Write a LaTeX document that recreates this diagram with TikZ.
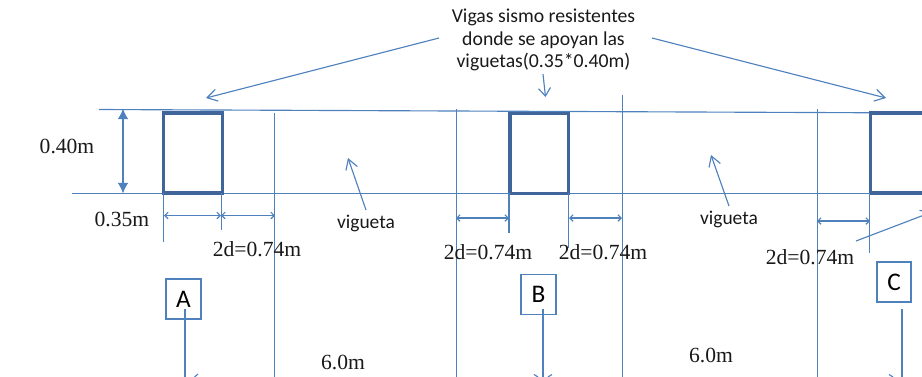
\documentclass[tikz,border=0pt]{standalone}
\usepackage{fontspec}
\setmainfont{Liberation Serif}
\newfontfamily\labelsans{Carlito}
\usetikzlibrary{arrows.meta}
\definecolor{linecol}{HTML}{4F81BD}
\definecolor{beamcol}{HTML}{3F659A}
\definecolor{boxcol}{HTML}{4F81BD}
\tikzset{
  ln/.style={draw=linecol,line width=0.85pt},
  beam/.style={draw=beamcol,line width=2.3pt,fill=none,minimum width=44pt,minimum height=60pt,inner sep=0pt,outer sep=0pt,anchor=north west},
  letterbox/.style={draw=boxcol,line width=1.4pt,fill=white,minimum width=26pt,minimum height=30pt,inner sep=0pt,font=\labelsans\fontsize{19}{20}\selectfont,text=black},
  dim/.style={font=\fontsize{16.2}{18}\selectfont,text=black!90,inner sep=0pt},
  sans/.style={font=\labelsans\fontsize{14.8}{16.9}\selectfont,text=black!90,inner sep=0pt,align=center},
  vigsans/.style={font=\labelsans\fontsize{14.6}{17}\selectfont,text=black!90,inner sep=0pt},
  openarrow/.style={ln,-{Straight Barb[length=7.5pt,width=9pt,line width=0.85pt]}},
  dimarrow/.style={ln,{Straight Barb[length=2.5pt,width=5pt]}-{Straight Barb[length=2.5pt,width=5pt]}},
  solidarrow/.style={draw=linecol,line width=1pt,{Latex[length=8pt,width=8pt]}-{Latex[length=8pt,width=8pt]}}
}
\begin{document}
\begin{tikzpicture}[x=0.75pt,y=-0.75pt]
\useasboundingbox (0,0) rectangle (922,376);
\clip (0,0) rectangle (922,376);
% main horizontal lines
\coordinate (t1) at (99,109.5); \coordinate (t2) at (930,113);
\coordinate (b1) at (72,193.5); \coordinate (b2) at (930,193.5);
\draw[ln] (t1) -- (t2);
\draw[ln] (b1) -- (b2);
% beams
\node[beam] (beamA) at (163.5,113) {};
\node[beam] (beamB) at (510,113.5) {};
\node[beam] (beamC) at (870.5,113) {};
% vertical lines
\foreach \n/\x/\ya/\yb in {a/163.7/193/242, b/221.5/193/230, c/274.5/113/380, d/456.5/109/380, e/509/193/233, f/568.5/193/248, g/622.5/95/380, h/817.5/109/380, i/869.5/193/253}{
  \coordinate (v\n1) at (\x,\ya); \coordinate (v\n2) at (\x,\yb);
  \draw[ln] (v\n1) -- (v\n2);
}
% dimension arrows
\coordinate (da) at (164,215.5); \coordinate (db) at (221,215.5); \coordinate (dc) at (275,215.5);
\draw[dimarrow] (da) -- (db);
\draw[dimarrow] (db) -- (dc);
\coordinate (dd) at (456,218); \coordinate (de) at (509,218);
\draw[dimarrow] (dd) -- (de);
\coordinate (df) at (569,218); \coordinate (dg) at (622,218);
\draw[dimarrow] (df) -- (dg);
\coordinate (dh) at (817,221); \coordinate (di) at (870,221);
\draw[dimarrow] (dh) -- (di);
\coordinate (ha) at (123,108.5); \coordinate (hb) at (123,193.5);
\draw[solidarrow] (ha) -- (hb);
% title and its arrows
\node[sans] (title) at (543.5,40) {Vigas sismo resistentes\\donde se apoyan las\\viguetas(0.35*0.40m)};
\coordinate (aL1) at (439,38); \coordinate (aL2) at (206,98);
\coordinate (aR1) at (652,38); \coordinate (aR2) at (886,98);
\coordinate (aM1) at (543,74); \coordinate (aM2) at (545.5,97);
\draw[openarrow] (aL1) -- (aL2);
\draw[openarrow] (aR1) -- (aR2);
\draw[ln,-{Straight Barb[length=6pt,width=9pt,line width=0.85pt]}] (aM1) -- (aM2);
% vigueta labels
\node[vigsans] (vig1) at (366,223.5) {vigueta};
\node[vigsans] (vig2) at (729,219) {vigueta};
\coordinate (n1a) at (366,210); \coordinate (n1b) at (348,158);
\coordinate (n2a) at (729,206); \coordinate (n2b) at (711,155);
\draw[openarrow] (n1a) -- (n1b);
\draw[openarrow] (n2a) -- (n2b);
\coordinate (n3a) at (856,241); \coordinate (n3b) at (932,212);
\draw[openarrow] (n3a) -- (n3b);
% dimension labels
\node[dim] (l40) at (67,146) {0.40m};
\node[dim] (l35) at (122,219) {0.35m};
\node[dim] (d1) at (257,249) {2d=0.74m};
\node[dim] (d2) at (488,252) {2d=0.74m};
\node[dim] (d3) at (603,252) {2d=0.74m};
\node[dim] (d4) at (810,257) {2d=0.74m};
\node[dim] (s1) at (343,362) {6.0m};
\node[dim] (s2) at (711,355) {6.0m};
% letter boxes and their leaders
\node[letterbox] (A) at (183.5,299) {A};
\node[letterbox] (B) at (538.5,294.5) {B};
\node[letterbox] (C) at (894,282) {C};
\coordinate (Ae) at (185,380); \coordinate (Be) at (543,380); \coordinate (Ce) at (902,380);
\coordinate (As) at (185,309); \coordinate (Bs) at (543,309); \coordinate (Cs) at (902,309);
\draw[ln] (As) -- (Ae);
\draw[ln] (Bs) -- (Be);
\draw[ln] (Cs) -- (Ce);
% cut-off arrowheads at the lower edge
\coordinate (m1a) at (194.5,377); \coordinate (m1b) at (198,374);
\coordinate (m2a) at (534,374.5); \coordinate (m2b) at (538,377);
\coordinate (m3a) at (552,374.5); \coordinate (m3b) at (548,377);
\coordinate (m4a) at (889,374.5); \coordinate (m4b) at (893,377);
\draw[ln] (m1a) -- (m1b);
\draw[ln] (m2a) -- (m2b);
\draw[ln] (m3a) -- (m3b);
\draw[ln] (m4a) -- (m4b);
\end{tikzpicture}
\end{document}
